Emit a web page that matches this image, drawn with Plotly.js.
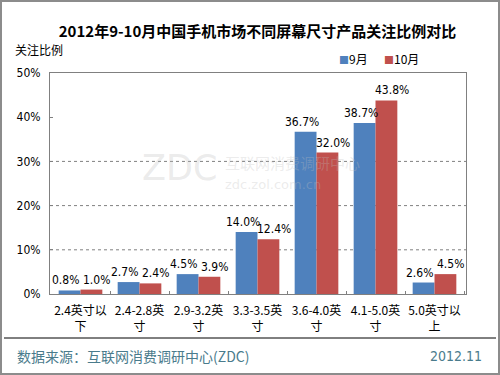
<!DOCTYPE html>
<html><head><meta charset="utf-8">
<script src="https://cdn.plot.ly/plotly-3.0.1.min.js"></script>
<style>body{margin:0;padding:0;background:#fff}#c{width:500px;height:375px}</style>
</head><body><div id="c"></div>
<script>
const categories = ["2.4英寸以<br>下","2.4-2.8英<br>寸","2.9-3.2英<br>寸","3.3-3.5英<br>寸","3.6-4.0英<br>寸","4.1-5.0英<br>寸","5.0英寸以<br>上"];
const sep = [0.8, 2.7, 4.5, 14.0, 36.7, 38.7, 2.6];
const oct = [1.0, 2.4, 3.9, 12.4, 32.0, 43.8, 4.5];
const seriesNames = ["9月","10月"];
const seriesColors = ["#4F81BD","#C0504D"];
const yTicks = [0,10,20,30,40,50];
const gridVals = [10,20,30];

const NARROW = "DejaVu Sans Condensed, Liberation Sans Narrow, sans-serif";
const F = "DejaVu Sans Condensed, Liberation Sans, sans-serif";
const CJK = "Noto Sans CJK SC, sans-serif";
const W=416,H=221;
function fmt(v){return v.toFixed(1)+"%";}
const traces = [sep, oct].map((vals,i)=>({
  type:"bar", name:seriesNames[i], x:categories, y:vals, marker:{color:seriesColors[i]},
  textposition:"none", showlegend:false}));
const labelShift = [-15, 16];
const labelAnn = [];
[sep, oct].forEach((vals,i)=>vals.forEach((v,j)=>labelAnn.push({
  text:fmt(v), x:categories[j], y:v, xref:"x", yref:"y", xanchor:"center", yanchor:"bottom",
  xshift:labelShift[i], yshift:1, showarrow:false, font:{family:NARROW,size:12,color:"#000"}})));
const shapes = gridVals.map(v=>({type:"line",xref:"paper",x0:0,x1:1,yref:"y",y0:v,y1:v,
  line:{color:"#808080",width:1,dash:"dot"},layer:"below"}));
shapes.push({type:"rect",xref:"paper",yref:"paper",x0:(-50+1)/W,x1:(500-50-1)/W,y0:-(81-1)/H,y1:1+(73-1)/H,line:{color:"#8C8C8C",width:2}});
shapes.push({type:"line",xref:"paper",yref:"paper",x0:(-50+4)/W,x1:(496-50)/W,y0:-(338-294)/H,y1:-(338-294)/H,line:{color:"#000",width:1}});
const legendX = [(337-50)/W, (382-50)/W];
const legendAnn = seriesNames.map((n,i)=>({
  text:'<span style="color:'+seriesColors[i]+';font-size:10px">■</span>'+n,
  xref:"paper",yref:"paper",x:legendX[i],y:1+(73-58)/H,xanchor:"left",yanchor:"middle",showarrow:false,
  font:{family:CJK,size:12,color:"#000"}}));
const wm = "rgba(190,190,190,0.3)";
const watermark = [
  {text:"ZDC",xref:"paper",yref:"paper",x:(140-50)/W,y:(294-168)/H,xanchor:"left",yanchor:"middle",showarrow:false,font:{family:"DejaVu Sans, sans-serif",size:35,color:wm}},
  {text:"互联网消费调研中心",xref:"paper",yref:"paper",x:(224-50)/W,y:(294-162)/H,xanchor:"left",yanchor:"middle",showarrow:false,font:{family:CJK,size:15,color:wm},borderpad:0},
  {text:"zdc.zol.com.cn",xref:"paper",yref:"paper",x:(224-50)/W,y:(294-184)/H,xanchor:"left",yanchor:"middle",showarrow:false,font:{family:"DejaVu Sans, sans-serif",size:13,color:wm},borderpad:0}
];
const layout = {
 width:500,height:375,
 margin:{l:50,r:34,t:73,b:81},
 paper_bgcolor:"#fff",plot_bgcolor:"#fff",
 barmode:"group",bargap:0.26,bargroupgap:0,
 showlegend:false,
 xaxis:{showline:true,linecolor:"#808080",linewidth:1,mirror:true,ticks:"inside",ticklen:3,tickcolor:"#808080",
   tickson:"boundaries",tickangle:0,tickfont:{family:CJK,size:12,color:"#000"},showgrid:false,automargin:false,ticklabelstandoff:6},
 yaxis:{range:[0,50],tickvals:yTicks,ticktext:yTicks.map(v=>v+"%"),showline:true,linecolor:"#808080",linewidth:1,mirror:true,
   ticks:"inside",ticklen:3,tickcolor:"#808080",showgrid:false,zeroline:false,automargin:false,
   tickfont:{family:F,size:12,color:"#000"},ticklabelstandoff:6},
 title:{text:"<b>2012年9-10月中国手机市场不同屏幕尺寸产品关注比例对比</b>",font:{family:CJK,size:15,color:"#000"},x:0.515,xanchor:"center",y:0.915,yanchor:"middle"},
 shapes:shapes,
 annotations:watermark.concat(labelAnn, legendAnn, [
  {text:"关注比例",xref:"paper",yref:"paper",x:(-50+13)/W,y:1+(73-50)/H,xanchor:"left",yanchor:"middle",showarrow:false,font:{family:CJK,size:12,color:"#000"}},
  {text:"数据来源：互联网消费调研中心(ZDC)",xref:"paper",yref:"paper",x:(-50+15)/W,y:-(356-294)/H,xanchor:"left",yanchor:"middle",showarrow:false,font:{family:CJK,size:14,color:"#4A7B8C"}},
  {text:"2012.11",xref:"paper",yref:"paper",x:(484-50)/W,y:-(356-294)/H,xanchor:"right",yanchor:"middle",showarrow:false,font:{family:F,size:14,color:"#4A7B8C"}}
 ])
};
Plotly.newPlot("c",traces,layout,{displayModeBar:false,staticPlot:true});
</script>
</body></html>
